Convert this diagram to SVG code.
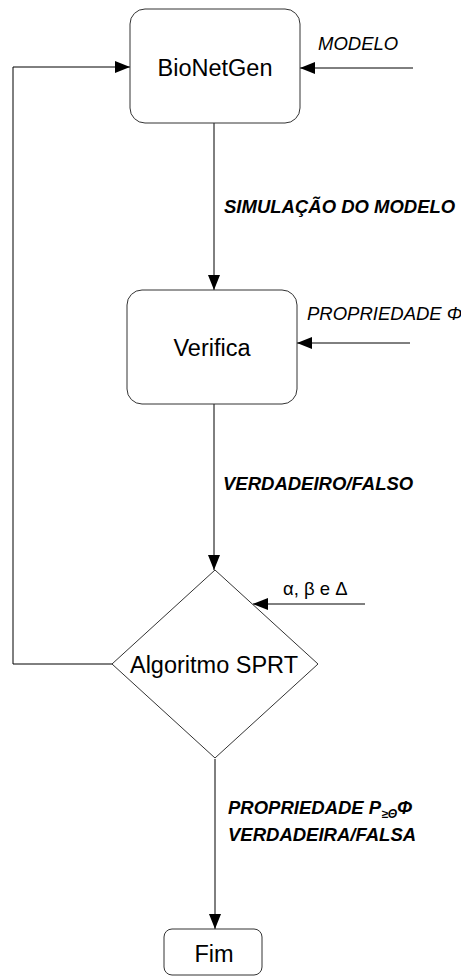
<svg xmlns="http://www.w3.org/2000/svg" width="461" height="976" viewBox="0 0 461 976">
<style>
.node{fill:#fff;stroke:#333;stroke-width:1}
.c{fill:none;stroke:#000;stroke-width:1}
.nt{font-family:"Liberation Sans",Arial,sans-serif;font-size:23.5px;fill:#000;text-anchor:middle}
.lb{font-family:"Liberation Sans",Arial,sans-serif;font-size:18.5px;fill:#000}
.i{font-style:italic}
.bi{font-style:italic;font-weight:bold}
</style>
<defs>
<marker id="ah" markerUnits="userSpaceOnUse" markerWidth="16" markerHeight="12" refX="15" refY="6" orient="auto">
<path d="M0,0 L15,6 L0,12 z" fill="#000"/>
</marker>
</defs>
<rect width="461" height="976" fill="#fff"/>
<g id="connectors">
<path class="c" d="M214,123 V290" marker-end="url(#ah)"/>
<path class="c" d="M214,404 V570" marker-end="url(#ah)"/>
<path class="c" d="M215,759 V929" marker-end="url(#ah)"/>
<path class="c" d="M112,664 H13 V67 H130" marker-end="url(#ah)"/>
<path class="c" d="M413,68 H300" marker-end="url(#ah)"/>
<path class="c" d="M410,343 H297" marker-end="url(#ah)"/>
<path class="c" d="M365,604 H253" marker-end="url(#ah)"/>
</g>
<g id="labels">
<text class="lb i" x="318" y="50">MODELO</text>
<text class="lb bi" x="224" y="213">SIMULAÇÃO DO MODELO</text>
<text class="lb i" x="307" y="320">PROPRIEDADE Φ</text>
<text class="lb bi" x="223" y="490">VERDADEIRO/FALSO</text>
<text class="lb" x="283" y="595">α, β e Δ</text>
<text class="lb bi" x="228" y="814">PROPRIEDADE P<tspan font-size="12" dy="4">≥Θ</tspan><tspan dy="-4">Φ</tspan></text>
<text class="lb bi" x="228" y="841">VERDADEIRA/FALSA</text>
</g>
<g id="bionetgen">
<rect class="node" x="130" y="9" width="170" height="114" rx="15" ry="15"/>
<text class="nt" x="215" y="76">BioNetGen</text>
</g>
<g id="verifica">
<rect class="node" x="127" y="290" width="170" height="114" rx="15" ry="15"/>
<text class="nt" x="212" y="356">Verifica</text>
</g>
<g id="sprt">
<polygon class="node" points="215,570 318,664 215,758 112,664"/>
<text class="nt" x="214" y="673">Algoritmo SPRT</text>
</g>
<g id="fim">
<rect class="node" x="164" y="929" width="98" height="46" rx="8" ry="8"/>
<text class="nt" x="214" y="962">Fim</text>
</g>
</svg>
